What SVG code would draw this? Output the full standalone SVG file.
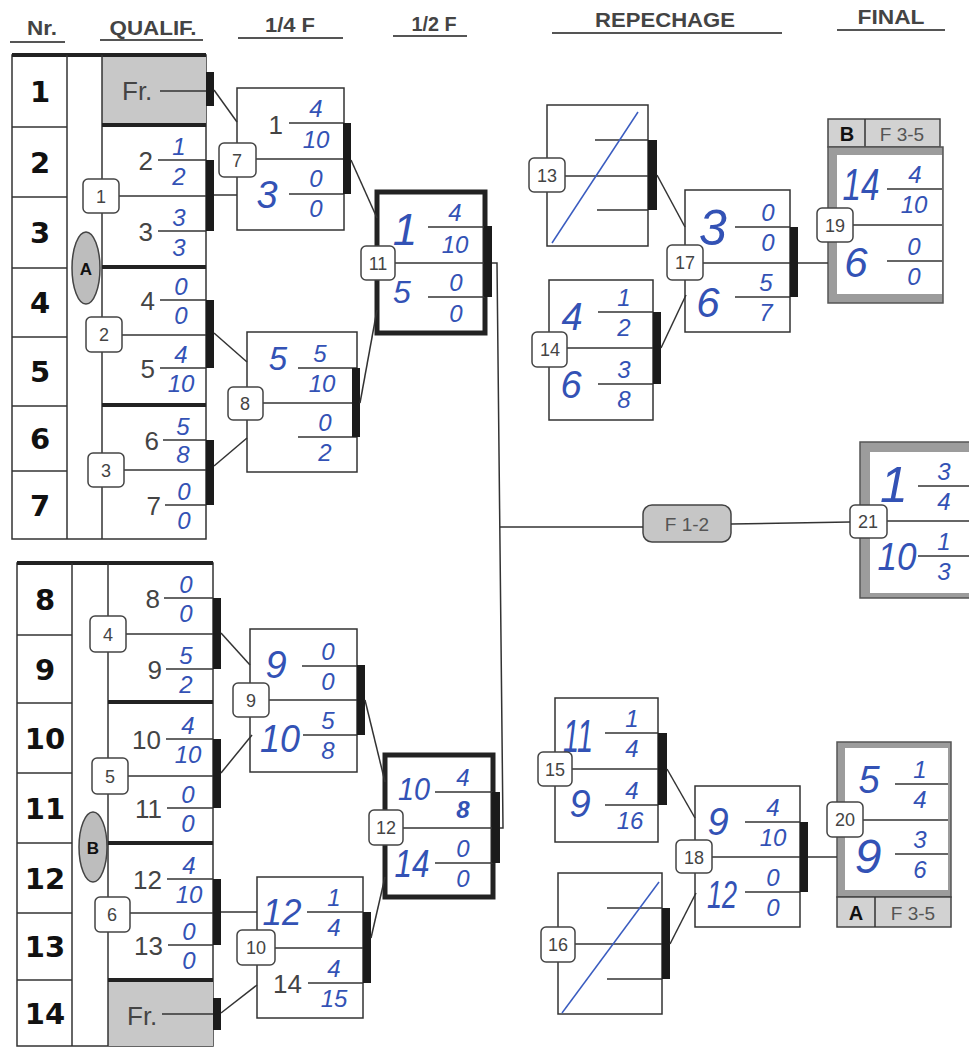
<svg xmlns="http://www.w3.org/2000/svg" width="969" height="1048" viewBox="0 0 969 1048">
<style>
.ln{stroke:#333;stroke-width:1.5;fill:none}
.ul{stroke:#555;stroke-width:2}
.bx{fill:#fff;stroke:#333;stroke-width:1.5}
.tk{fill:#fff;stroke:#222;stroke-width:5}
.th{stroke:#222;stroke-width:4}
.bar{fill:#1b1b1b}
.gr{fill:#c8c8c8}
.fr{fill:#9c9c9c;stroke:#555;stroke-width:1.5}
.lb{fill:#d2d2d2;stroke:#444;stroke-width:1.5}
.nb{fill:#fff;stroke:#444;stroke-width:1.5}
.nbt{font-family:"Liberation Sans",Arial,sans-serif;font-size:18px;fill:#444;text-anchor:middle}
.nr{font-family:"DejaVu Sans",sans-serif;font-weight:bold;font-size:29px;fill:#111;text-anchor:middle}
.pr{font-family:"Liberation Sans",Arial,sans-serif;font-size:26px;fill:#444;text-anchor:end}
.hw{font-family:"Liberation Sans",Arial,sans-serif;font-style:italic;fill:#3352b5;text-anchor:middle}
.sc{font-family:"Liberation Sans",Arial,sans-serif;font-style:italic;font-size:24px;fill:#3352b5;text-anchor:middle}
.hd{font-family:"Liberation Sans",Arial,sans-serif;font-weight:bold;font-size:20px;fill:#444;text-anchor:middle}
.ov{fill:#bdbdbd;stroke:#444;stroke-width:1.5}
.ovt{font-family:"Liberation Sans",Arial,sans-serif;font-weight:bold;font-size:17px;fill:#111;text-anchor:middle}
.lt{font-family:"Liberation Sans",Arial,sans-serif;font-size:19px;fill:#555;text-anchor:middle}
.ltb{font-family:"Liberation Sans",Arial,sans-serif;font-weight:bold;font-size:20px;fill:#111;text-anchor:middle}
.diag{stroke:#3a5cc0;stroke-width:1.5}
</style>

<g id="header">
<text class="hd" x="42" y="35" textLength="30" lengthAdjust="spacingAndGlyphs">Nr.</text>
<line class="ul" x1="10" y1="42" x2="65" y2="42"/>
<text class="hd" x="153" y="35" textLength="87" lengthAdjust="spacingAndGlyphs">QUALIF.</text>
<line class="ul" x1="100" y1="40" x2="203" y2="40"/>
<text class="hd" x="290" y="32" textLength="50" lengthAdjust="spacingAndGlyphs">1/4 F</text>
<line class="ul" x1="238" y1="38" x2="343" y2="38"/>
<text class="hd" x="434" y="31" textLength="45" lengthAdjust="spacingAndGlyphs">1/2 F</text>
<line class="ul" x1="393" y1="36" x2="467" y2="36"/>
<text class="hd" x="665" y="27" textLength="140" lengthAdjust="spacingAndGlyphs">REPECHAGE</text>
<line class="ul" x1="552" y1="33" x2="782" y2="33"/>
<text class="hd" x="891" y="24" textLength="67" lengthAdjust="spacingAndGlyphs">FINAL</text>
<line class="ul" x1="837" y1="30" x2="945" y2="30"/>
</g>

<g id="poolA">
<rect class="bx" x="12" y="55" width="194" height="484"/>
<rect class="gr" x="102" y="56" width="104" height="69"/>
<line class="th" x1="12" y1="55" x2="206" y2="55"/>
<line class="ln" x1="67" y1="55" x2="67" y2="539"/>
<line class="ln" x1="102" y1="55" x2="102" y2="539"/>
<line class="ln" x1="12" y1="127" x2="67" y2="127"/>
<line class="ln" x1="12" y1="197" x2="67" y2="197"/>
<line class="ln" x1="12" y1="268" x2="67" y2="268"/>
<line class="ln" x1="12" y1="337" x2="67" y2="337"/>
<line class="ln" x1="12" y1="406" x2="67" y2="406"/>
<line class="ln" x1="12" y1="471" x2="67" y2="471"/>
<line class="th" x1="102" y1="125" x2="206" y2="125"/>
<line class="th" x1="102" y1="267" x2="206" y2="267"/>
<line class="th" x1="102" y1="405" x2="206" y2="405"/>
<text class="nr" x="40" y="102">1</text>
<text class="nr" x="40" y="173">2</text>
<text class="nr" x="40" y="243">3</text>
<text class="nr" x="40" y="313">4</text>
<text class="nr" x="40" y="382">5</text>
<text class="nr" x="40" y="449">6</text>
<text class="nr" x="40" y="516">7</text>
<ellipse class="ov" cx="86" cy="268" rx="14" ry="36"/>
<text class="ovt" x="86" y="275">A</text>
</g>

<g id="frA">
<text class="pr" x="122" y="100" style="text-anchor:start">Fr.</text>
<line class="ln" x1="160" y1="91" x2="206" y2="91"/>
<rect class="bar" x="206" y="72" width="8" height="34"/>
</g>

<g id="m1">
<line class="ln" x1="119" y1="196" x2="206" y2="196"/>
<line class="ln" x1="158" y1="160" x2="206" y2="160"/>
<line class="ln" x1="158" y1="231" x2="206" y2="231"/>
<rect class="bar" x="206" y="160" width="8" height="71"/>
<text class="pr" x="153" y="170">2</text>
<text class="sc" x="179" y="155">1</text><text class="sc" x="179" y="185">2</text>
<text class="pr" x="153" y="241">3</text>
<text class="sc" x="179" y="226">3</text><text class="sc" x="179" y="256">3</text>
<rect class="nb" x="83" y="179" width="36" height="34" rx="5"/>
<text class="nbt" x="101" y="203">1</text>
</g>

<g id="m2">
<line class="ln" x1="122" y1="335" x2="206" y2="335"/>
<line class="ln" x1="160" y1="300" x2="206" y2="300"/>
<line class="ln" x1="160" y1="368" x2="206" y2="368"/>
<rect class="bar" x="206" y="300" width="8" height="68"/>
<text class="pr" x="155" y="310">4</text>
<text class="sc" x="181" y="295">0</text><text class="sc" x="181" y="324">0</text>
<text class="pr" x="155" y="378">5</text>
<text class="sc" x="181" y="363">4</text><text class="sc" x="181" y="392">10</text>
<rect class="nb" x="86" y="317" width="36" height="35" rx="5"/>
<text class="nbt" x="104" y="341">2</text>
</g>

<g id="m3">
<line class="ln" x1="124" y1="470" x2="206" y2="470"/>
<line class="ln" x1="163" y1="440" x2="206" y2="440"/>
<line class="ln" x1="165" y1="505" x2="206" y2="505"/>
<rect class="bar" x="206" y="440" width="8" height="65"/>
<text class="pr" x="159" y="450">6</text>
<text class="sc" x="183" y="435">5</text><text class="sc" x="183" y="463">8</text>
<text class="pr" x="161" y="515">7</text>
<text class="sc" x="184" y="500">0</text><text class="sc" x="184" y="529">0</text>
<rect class="nb" x="88" y="453" width="36" height="34" rx="5"/>
<text class="nbt" x="106" y="477">3</text>
</g>

<g id="poolB">
<rect class="bx" x="17" y="563" width="196" height="483"/>
<rect class="gr" x="108" y="980" width="105" height="66"/>
<line class="th" x1="17" y1="563" x2="213" y2="563"/>
<line class="ln" x1="72" y1="563" x2="72" y2="1046"/>
<line class="ln" x1="108" y1="563" x2="108" y2="1046"/>
<line class="ln" x1="17" y1="635" x2="72" y2="635"/>
<line class="ln" x1="17" y1="703" x2="72" y2="703"/>
<line class="ln" x1="17" y1="773" x2="72" y2="773"/>
<line class="ln" x1="17" y1="843" x2="72" y2="843"/>
<line class="ln" x1="17" y1="913" x2="72" y2="913"/>
<line class="ln" x1="17" y1="980" x2="72" y2="980"/>
<line class="th" x1="108" y1="702" x2="213" y2="702"/>
<line class="th" x1="108" y1="843" x2="213" y2="843"/>
<line class="th" x1="108" y1="980" x2="213" y2="980"/>
<text class="nr" x="45" y="610">8</text>
<text class="nr" x="45" y="680">9</text>
<text class="nr" x="45" y="749">10</text>
<text class="nr" x="45" y="819">11</text>
<text class="nr" x="45" y="889">12</text>
<text class="nr" x="45" y="957">13</text>
<text class="nr" x="45" y="1024">14</text>
<ellipse class="ov" cx="93" cy="847" rx="14" ry="35"/>
<text class="ovt" x="93" y="854">B</text>
</g>

<g id="frB">
<text class="pr" x="127" y="1025" style="text-anchor:start">Fr.</text>
<line class="ln" x1="162" y1="1014" x2="213" y2="1014"/>
<rect class="bar" x="213" y="998" width="8" height="32"/>
</g>

<g id="m4">
<line class="ln" x1="126" y1="634" x2="213" y2="634"/>
<line class="ln" x1="164" y1="598" x2="213" y2="598"/>
<line class="ln" x1="166" y1="669" x2="213" y2="669"/>
<rect class="bar" x="213" y="598" width="8" height="71"/>
<text class="pr" x="160" y="608">8</text>
<text class="sc" x="186" y="593">0</text><text class="sc" x="186" y="622">0</text>
<text class="pr" x="162" y="679">9</text>
<text class="sc" x="186" y="664">5</text><text class="sc" x="186" y="693">2</text>
<rect class="nb" x="90" y="616" width="36" height="36" rx="5"/>
<text class="nbt" x="108" y="641">4</text>
</g>

<g id="m5">
<line class="ln" x1="128" y1="776" x2="213" y2="776"/>
<line class="ln" x1="166" y1="739" x2="213" y2="739"/>
<line class="ln" x1="167" y1="808" x2="213" y2="808"/>
<rect class="bar" x="213" y="739" width="8" height="69"/>
<text class="pr" x="161" y="749">10</text>
<text class="sc" x="188" y="734">4</text><text class="sc" x="188" y="763">10</text>
<text class="pr" x="162" y="818">11</text>
<text class="sc" x="188" y="803">0</text><text class="sc" x="188" y="832">0</text>
<rect class="nb" x="92" y="758" width="36" height="36" rx="5"/>
<text class="nbt" x="110" y="783">5</text>
</g>

<g id="m6">
<line class="ln" x1="130" y1="913" x2="213" y2="913"/>
<line class="ln" x1="167" y1="879" x2="213" y2="879"/>
<line class="ln" x1="168" y1="945" x2="213" y2="945"/>
<rect class="bar" x="213" y="879" width="8" height="66"/>
<text class="pr" x="162" y="889">12</text>
<text class="sc" x="189" y="874">4</text><text class="sc" x="189" y="903">10</text>
<text class="pr" x="163" y="955">13</text>
<text class="sc" x="189" y="940">0</text><text class="sc" x="189" y="969">0</text>
<rect class="nb" x="95" y="897" width="35" height="35" rx="5"/>
<text class="nbt" x="112" y="921">6</text>
</g>

<g id="m7">
<rect class="bx" x="237" y="88" width="107" height="142"/>
<line class="ln" x1="255" y1="159" x2="344" y2="159"/>
<line class="ln" x1="289" y1="123" x2="344" y2="123"/>
<line class="ln" x1="289" y1="194" x2="344" y2="194"/>
<rect class="bar" x="343" y="123" width="8" height="71"/>
<text class="pr" x="283" y="134">1</text>
<text class="sc" x="316" y="117">4</text><text class="sc" x="316" y="148">10</text>
<text class="hw" x="267" y="208" font-size="38">3</text>
<text class="sc" x="316" y="187">0</text><text class="sc" x="316" y="217">0</text>
<rect class="nb" x="219" y="143" width="37" height="34" rx="5"/>
<text class="nbt" x="237" y="167">7</text>
</g>

<g id="m8">
<rect class="bx" x="247" y="332" width="110" height="140"/>
<line class="ln" x1="263" y1="403" x2="357" y2="403"/>
<line class="ln" x1="298" y1="368" x2="357" y2="368"/>
<line class="ln" x1="298" y1="437" x2="357" y2="437"/>
<rect class="bar" x="352" y="368" width="8" height="69"/>
<text class="hw" x="278" y="370" font-size="33">5</text>
<text class="sc" x="320" y="362">5</text><text class="sc" x="322" y="392">10</text>
<text class="sc" x="325" y="431">0</text><text class="sc" x="325" y="461">2</text>
<rect class="nb" x="228" y="387" width="35" height="33" rx="5"/>
<text class="nbt" x="245" y="410">8</text>
</g>

<g id="m11">
<rect class="tk" x="377" y="192" width="108" height="141"/>
<line class="ln" x1="395" y1="263" x2="485" y2="263"/>
<line class="ln" x1="428" y1="227" x2="485" y2="227"/>
<line class="ln" x1="428" y1="297" x2="485" y2="297"/>
<rect class="bar" x="484" y="226" width="8" height="71"/>
<text class="hw" x="405" y="245" font-size="44">1</text>
<text class="sc" x="455" y="221">4</text><text class="sc" x="455" y="253">10</text>
<text class="hw" x="402" y="303" font-size="32">5</text>
<text class="sc" x="456" y="291">0</text><text class="sc" x="456" y="322">0</text>
<rect class="nb" x="361" y="246" width="34" height="34" rx="5"/>
<text class="nbt" x="378" y="270">11</text>
</g>

<g id="m9">
<rect class="bx" x="250" y="629" width="107" height="143"/>
<line class="ln" x1="269" y1="700" x2="357" y2="700"/>
<line class="ln" x1="302" y1="666" x2="357" y2="666"/>
<line class="ln" x1="303" y1="735" x2="357" y2="735"/>
<rect class="bar" x="357" y="665" width="8" height="70"/>
<text class="hw" x="276" y="678" font-size="38">9</text>
<text class="sc" x="328" y="660">0</text><text class="sc" x="328" y="690">0</text>
<text class="hw" x="280" y="752" font-size="38" textLength="40" lengthAdjust="spacingAndGlyphs">10</text>
<text class="sc" x="328" y="729">5</text><text class="sc" x="328" y="759">8</text>
<rect class="nb" x="233" y="683" width="36" height="34" rx="5"/>
<text class="nbt" x="251" y="707">9</text>
</g>

<g id="m10">
<rect class="bx" x="257" y="877" width="106" height="141"/>
<line class="ln" x1="275" y1="948" x2="363" y2="948"/>
<line class="ln" x1="307" y1="912" x2="363" y2="912"/>
<line class="ln" x1="308" y1="983" x2="363" y2="983"/>
<rect class="bar" x="363" y="912" width="8" height="71"/>
<text class="hw" x="282" y="925" font-size="36" textLength="39" lengthAdjust="spacingAndGlyphs">12</text>
<text class="sc" x="334" y="906">1</text><text class="sc" x="334" y="936">4</text>
<text class="pr" x="302" y="993">14</text>
<text class="sc" x="334" y="977">4</text><text class="sc" x="334" y="1007">15</text>
<rect class="nb" x="237" y="930" width="38" height="35" rx="5"/>
<text class="nbt" x="256" y="954">10</text>
</g>

<g id="m12">
<rect class="tk" x="385" y="755" width="108" height="142"/>
<line class="ln" x1="403" y1="828" x2="493" y2="828"/>
<line class="ln" x1="435" y1="792" x2="493" y2="792"/>
<line class="ln" x1="435" y1="863" x2="493" y2="863"/>
<rect class="bar" x="492" y="792" width="8" height="71"/>
<text class="hw" x="414" y="800" font-size="32" textLength="32" lengthAdjust="spacingAndGlyphs">10</text>
<text class="sc" x="463" y="786">4</text><text class="sc" x="463" y="818" font-weight="bold">8</text>
<text class="hw" x="412" y="877" font-size="38" textLength="35" lengthAdjust="spacingAndGlyphs">14</text>
<text class="sc" x="463" y="857">0</text><text class="sc" x="463" y="887">0</text>
<rect class="nb" x="369" y="810" width="34" height="35" rx="5"/>
<text class="nbt" x="386" y="834">12</text>
</g>

<g id="m13">
<rect class="bx" x="547" y="105" width="101" height="141"/>
<line class="ln" x1="565" y1="176" x2="648" y2="176"/>
<line class="ln" x1="595" y1="140" x2="648" y2="140"/>
<line class="ln" x1="597" y1="210" x2="648" y2="210"/>
<rect class="bar" x="648" y="140" width="9" height="70"/>
<line class="diag" x1="552" y1="243" x2="638" y2="112"/>
<rect class="nb" x="529" y="158" width="36" height="34" rx="5"/>
<text class="nbt" x="547" y="182">13</text>
</g>

<g id="m14">
<rect class="bx" x="549" y="280" width="104" height="140"/>
<line class="ln" x1="567" y1="348" x2="653" y2="348"/>
<line class="ln" x1="598" y1="312" x2="653" y2="312"/>
<line class="ln" x1="598" y1="384" x2="653" y2="384"/>
<rect class="bar" x="653" y="312" width="8" height="72"/>
<text class="hw" x="572" y="330" font-size="38">4</text>
<text class="sc" x="624" y="306">1</text><text class="sc" x="624" y="336">2</text>
<text class="hw" x="571" y="398" font-size="38">6</text>
<text class="sc" x="624" y="378">3</text><text class="sc" x="624" y="408">8</text>
<rect class="nb" x="532" y="332" width="35" height="35" rx="5"/>
<text class="nbt" x="550" y="356">14</text>
</g>

<g id="m17">
<rect class="bx" x="685" y="190" width="105" height="142"/>
<line class="ln" x1="703" y1="263" x2="790" y2="263"/>
<line class="ln" x1="735" y1="227" x2="790" y2="227"/>
<line class="ln" x1="735" y1="297" x2="790" y2="297"/>
<rect class="bar" x="790" y="227" width="8" height="70"/>
<text class="hw" x="713" y="245" font-size="50">3</text>
<text class="sc" x="768" y="221">0</text><text class="sc" x="768" y="251">0</text>
<text class="hw" x="708" y="317" font-size="42">6</text>
<text class="sc" x="766" y="291">5</text><text class="sc" x="766" y="321">7</text>
<rect class="nb" x="667" y="245" width="36" height="35" rx="5"/>
<text class="nbt" x="685" y="269">17</text>
</g>

<g id="m19">
<rect class="lb" x="828" y="119" width="112" height="28"/>
<line class="ln" x1="865" y1="119" x2="865" y2="147"/>
<text class="ltb" x="847" y="141">B</text>
<text class="lt" x="902" y="141">F 3-5</text>
<rect class="fr" x="828" y="147" width="115" height="156"/>
<rect fill="#fff" x="837" y="155" width="105" height="139"/>
<line class="ln" x1="853" y1="225" x2="942" y2="225"/>
<line class="ln" x1="887" y1="189" x2="942" y2="189"/>
<line class="ln" x1="887" y1="261" x2="942" y2="261"/>
<text class="hw" x="861" y="200" font-size="44" textLength="37" lengthAdjust="spacingAndGlyphs">14</text>
<text class="sc" x="915" y="183">4</text><text class="sc" x="914" y="213">10</text>
<text class="hw" x="856" y="277" font-size="42">6</text>
<text class="sc" x="914" y="255">0</text><text class="sc" x="914" y="285">0</text>
<rect class="nb" x="817" y="208" width="36" height="34" rx="5"/>
<text class="nbt" x="835" y="232">19</text>
</g>

<g id="f12">
<rect x="643" y="505" width="88" height="37" rx="9" fill="#c6c6c6" stroke="#444" stroke-width="1.5"/>
<text class="lt" x="687" y="531" font-size="20">F 1-2</text>
</g>

<g id="m21">
<rect class="fr" x="860" y="442" width="120" height="156"/>
<rect fill="#fff" x="870" y="452" width="110" height="141"/>
<line class="ln" x1="887" y1="521" x2="969" y2="521"/>
<line class="ln" x1="918" y1="486" x2="969" y2="486"/>
<line class="ln" x1="918" y1="556" x2="969" y2="556"/>
<text class="hw" x="894" y="502" font-size="50">1</text>
<text class="sc" x="944" y="480">3</text><text class="sc" x="944" y="510">4</text>
<text class="hw" x="897" y="570" font-size="38" textLength="39" lengthAdjust="spacingAndGlyphs">10</text>
<text class="sc" x="944" y="550">1</text><text class="sc" x="944" y="580">3</text>
<rect class="nb" x="850" y="505" width="37" height="33" rx="5"/>
<text class="nbt" x="868" y="528">21</text>
</g>

<g id="m15">
<rect class="bx" x="555" y="698" width="103" height="144"/>
<line class="ln" x1="572" y1="769" x2="658" y2="769"/>
<line class="ln" x1="605" y1="733" x2="658" y2="733"/>
<line class="ln" x1="605" y1="805" x2="658" y2="805"/>
<rect class="bar" x="658" y="733" width="9" height="72"/>
<text class="hw" x="578" y="752" font-size="46" textLength="30" lengthAdjust="spacingAndGlyphs">11</text>
<text class="sc" x="632" y="727">1</text><text class="sc" x="632" y="757">4</text>
<text class="hw" x="580" y="817" font-size="38">9</text>
<text class="sc" x="632" y="799">4</text><text class="sc" x="630" y="829">16</text>
<rect class="nb" x="538" y="752" width="34" height="34" rx="5"/>
<text class="nbt" x="555" y="776">15</text>
</g>

<g id="m16">
<rect class="bx" x="558" y="873" width="104" height="141"/>
<line class="ln" x1="575" y1="944" x2="662" y2="944"/>
<line class="ln" x1="607" y1="908" x2="662" y2="908"/>
<line class="ln" x1="607" y1="979" x2="662" y2="979"/>
<rect class="bar" x="662" y="908" width="8" height="71"/>
<line class="diag" x1="562" y1="1013" x2="659" y2="882"/>
<rect class="nb" x="541" y="927" width="34" height="35" rx="5"/>
<text class="nbt" x="558" y="951">16</text>
</g>

<g id="m18">
<rect class="bx" x="695" y="786" width="105" height="141"/>
<line class="ln" x1="712" y1="857" x2="800" y2="857"/>
<line class="ln" x1="745" y1="822" x2="800" y2="822"/>
<line class="ln" x1="745" y1="892" x2="800" y2="892"/>
<rect class="bar" x="800" y="822" width="8" height="70"/>
<text class="hw" x="718" y="835" font-size="38">9</text>
<text class="sc" x="773" y="816">4</text><text class="sc" x="773" y="846">10</text>
<text class="hw" x="722" y="908" font-size="38" textLength="30" lengthAdjust="spacingAndGlyphs">12</text>
<text class="sc" x="773" y="886">0</text><text class="sc" x="773" y="916">0</text>
<rect class="nb" x="676" y="840" width="36" height="33" rx="5"/>
<text class="nbt" x="694" y="864">18</text>
</g>

<g id="m20">
<rect class="fr" x="837" y="742" width="114" height="155"/>
<rect fill="#fff" x="845" y="748" width="103" height="142"/>
<rect class="lb" x="837" y="897" width="114" height="30"/>
<line class="ln" x1="875" y1="897" x2="875" y2="927"/>
<text class="ltb" x="856" y="920">A</text>
<text class="lt" x="913" y="920">F 3-5</text>
<line class="ln" x1="863" y1="820" x2="948" y2="820"/>
<line class="ln" x1="895" y1="784" x2="948" y2="784"/>
<line class="ln" x1="895" y1="854" x2="948" y2="854"/>
<text class="hw" x="869" y="793" font-size="38">5</text>
<text class="sc" x="920" y="778">1</text><text class="sc" x="920" y="808">4</text>
<text class="hw" x="868" y="873" font-size="48">9</text>
<text class="sc" x="920" y="848">3</text><text class="sc" x="920" y="878">6</text>
<rect class="nb" x="827" y="802" width="36" height="35" rx="5"/>
<text class="nbt" x="845" y="826">20</text>
</g>

<g id="connectors" class="ln">
<line x1="214" y1="90" x2="237" y2="122"/>
<line x1="214" y1="195" x2="237" y2="195"/>
<line x1="214" y1="333" x2="247" y2="362"/>
<line x1="214" y1="466" x2="247" y2="438"/>
<line x1="351" y1="160" x2="377" y2="218"/>
<line x1="360" y1="403" x2="377" y2="310"/>
<polyline points="492,263 497,263 503,828 500,828"/>
<line x1="500" y1="527" x2="643" y2="527"/>
<line x1="731" y1="524" x2="850" y2="522"/>
<line x1="221" y1="633" x2="250" y2="665"/>
<line x1="221" y1="773" x2="252" y2="735"/>
<line x1="221" y1="912" x2="257" y2="912"/>
<line x1="221" y1="1013" x2="257" y2="985"/>
<line x1="365" y1="700" x2="385" y2="782"/>
<line x1="371" y1="938" x2="385" y2="877"/>
<line x1="657" y1="175" x2="685" y2="227"/>
<line x1="661" y1="348" x2="686" y2="295"/>
<line x1="798" y1="263" x2="828" y2="263"/>
<line x1="667" y1="769" x2="695" y2="818"/>
<line x1="670" y1="944" x2="696" y2="893"/>
<line x1="808" y1="857" x2="837" y2="857"/>
</g>
</svg>
